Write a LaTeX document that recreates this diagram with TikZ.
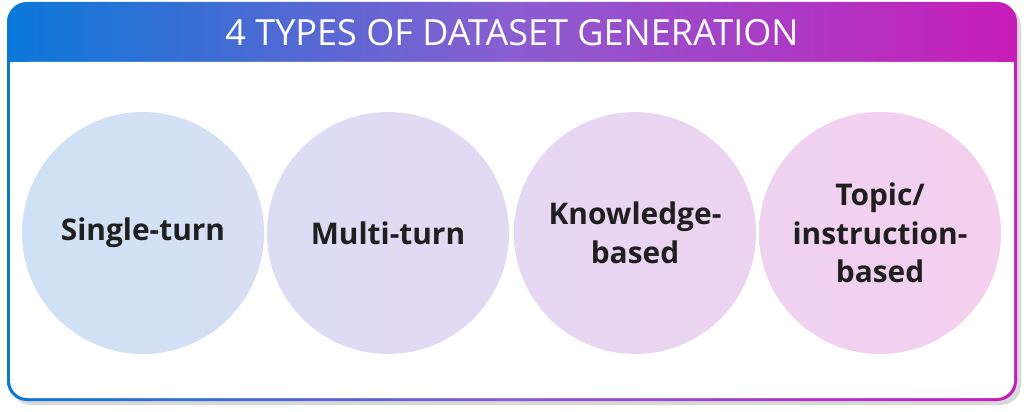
\documentclass[tikz,border=0pt]{standalone}
\usepackage{fontspec}
\setmainfont{Open Sans}
\setsansfont{Open Sans}
\begin{document}
\begin{tikzpicture}[x=0.02cm, y=-0.02cm, font=\sffamily]
    \definecolor{hblue}{HTML}{0A78D8}
    \definecolor{hpurple}{HTML}{8A5ED0}
    \definecolor{hpink}{HTML}{C81CB8}
    \definecolor{ca}{HTML}{CFE1F6}
    \definecolor{cb}{HTML}{D7DFF4}
    \definecolor{cc}{HTML}{DDDCF4}
    \definecolor{cd}{HTML}{E2D9F3}
    \definecolor{ce}{HTML}{E6D7F2}
    \definecolor{cf}{HTML}{ECD4F1}
    \definecolor{cg}{HTML}{EFD2F0}
    \definecolor{ch}{HTML}{F4CFEE}

    \tikzset{
        kind/.style = {circle, minimum size=4.8cm, inner sep=0pt, align=center,
            font=\fontsize{17}{22}\selectfont\sffamily\bfseries, text=black!88},
    }

    \useasboundingbox (0,0) rectangle (1024,412);

    % frame with gradient border
    \fill[black!15, rounded corners=0.4cm] (11,6) rectangle (1021,405);
    \shade[left color=hblue, right color=hpink, middle color=hpurple, rounded corners=0.4cm]
        (7,2) rectangle (1017,401);
    \fill[white, rounded corners=0.35cm] (10,62) rectangle (1014,398);
    \fill[white] (10,62) rectangle (1014,80);

    \node[text=white, font=\fontsize{20.5}{26}\selectfont\sffamily] (title) at (512,33)
        {4 TYPES OF DATASET GENERATION};

    \shade[left color=ca, right color=cb] (143,233) circle (121);
    \shade[left color=cc, right color=cd] (388,233) circle (121);
    \shade[left color=ce, right color=cf] (635,233) circle (121);
    \shade[left color=cg, right color=ch] (880,233) circle (121);

    \node[kind] (single) at (143,233) {Single-turn};
    \node[kind] (multi) at (388,233) {Multi-turn};
    \node[kind] (know) at (635,233) {Knowledge-\\based};
    \node[kind] (topic) at (880,233) {Topic/\\instruction-\\based};
\end{tikzpicture}
\end{document}
